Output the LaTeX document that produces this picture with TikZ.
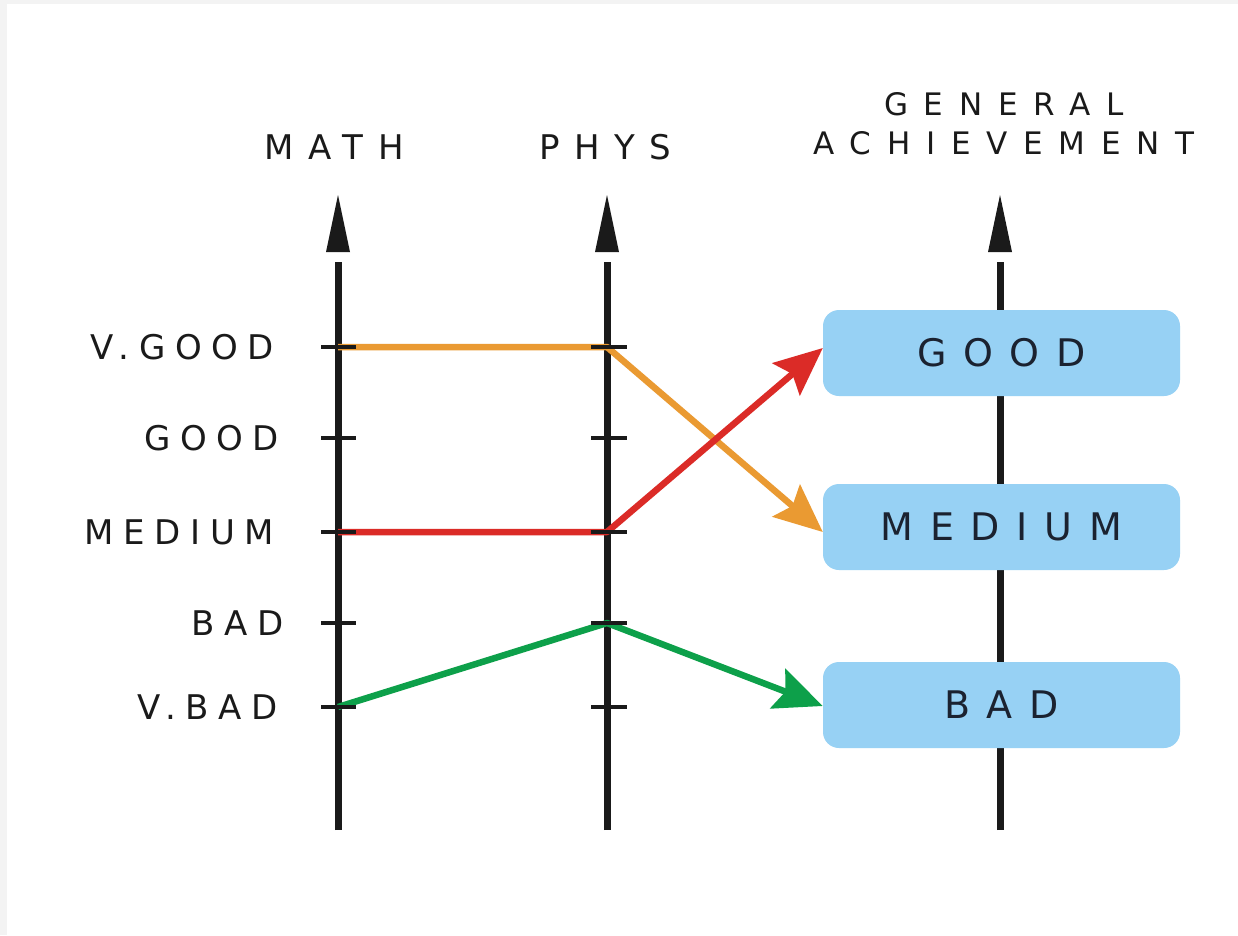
\documentclass[tikz,border=0pt]{standalone}
\usepackage{fontspec}
\setmainfont{DejaVu Sans}
\newfontfamily\levelfont[LetterSpace=28]{DejaVu Sans}
\newfontfamily\headfont[LetterSpace=42]{DejaVu Sans}
\newfontfamily\widefont[LetterSpace=51]{DejaVu Sans}
\newfontfamily\gradefont[LetterSpace=44]{DejaVu Sans}
\usetikzlibrary{arrows.meta,positioning}
\definecolor{Orange}{HTML}{EA9A32}
\definecolor{Red}{HTML}{DB2B27}
\definecolor{Green}{HTML}{0DA04A}
\definecolor{BoxBlue}{HTML}{97D1F4}
\definecolor{Ink}{HTML}{1A1A1A}
\definecolor{Navy}{HTML}{1B2230}
\definecolor{Frame}{HTML}{F3F3F3}

\begin{document}
\begin{tikzpicture}[x=1pt,y=-1pt,
  axisline/.style={line width=7pt,draw=Ink},
  axishead/.style={fill=Ink},
  tickmark/.style={line width=3.5pt,draw=Ink},
  level/.style={font=\fontsize{34}{34}\selectfont\levelfont,anchor=east,text=Ink,inner sep=0pt},
  head/.style={font=\fontsize{34}{34}\selectfont\headfont,text=Ink,inner sep=0pt},
  widehead/.style={font=\fontsize{31}{39}\selectfont\widefont,text=Ink,align=center,inner sep=0pt},
  grade/.style={fill=BoxBlue,rounded corners=16pt,minimum width=357pt,minimum height=86pt,
    font=\fontsize{38}{38}\selectfont\gradefont,text=Navy,inner sep=0pt},
  link/.style={line width=6.5pt,line join=round},
  tip/.style={-{Stealth[length=48pt,width=42pt,inset=8pt]}}
]
\fill[Frame] (0,0) rectangle (1238,935);
\fill[white] (7,4) rectangle (1238,935);
\useasboundingbox (0,0) rectangle (1238,935);

% axes
\foreach \name/\x in {math/338,phys/607,gen/1000} {
  \coordinate (\name-top) at (\x,262);
  \coordinate (\name-bot) at (\x,830);
  \draw[axisline] (\name-bot) -- (\name-top);
  \fill[axishead] (\x-12,252) -- (\x,195) -- (\x+12,252) -- cycle;
}

% headings
\node[head] (mathhead) at (334,147.5) {MATH};
\node[head] (physhead) at (605,147.5) {PHYS};
\node[widehead] (genhead) at (1004,124) {GENERAL\\ACHIEVEMENT};

% levels on the two input axes
\foreach \lbl/\lx/\y [count=\i] in {V.GOOD/274/347,GOOD/279/438,MEDIUM/274/532,BAD/284/623,V.BAD/278/707} {
  \coordinate (m\i) at (338,\y);
  \coordinate (p\i) at (607,\y);
  \node[level] (lvl\i) at (\lx,\y) {\lbl};
}

% output grades
\node[grade] (bgood) at (1001.5,353) {GOOD};
\node[grade] (bmed) at (1001.5,527) {MEDIUM};
\node[grade] (bbad) at (1001.5,705) {BAD};

% rules
\draw[link,Orange,tip] (m1) -- (p1) -- ([yshift=-5pt]bmed.west);
\draw[link,Red,tip] (m3) -- (p3) -- ([yshift=5pt]bgood.west);
\draw[link,Green,tip] (m5) -- (p4) -- ([yshift=-1pt]bbad.west);

% ticks
\foreach \i in {1,...,5} {
  \draw[tickmark] ([xshift=-17pt]m\i) -- ([xshift=18pt]m\i);
  \draw[tickmark] ([xshift=-16pt]p\i) -- ([xshift=20pt]p\i);
}
\end{tikzpicture}
\end{document}
